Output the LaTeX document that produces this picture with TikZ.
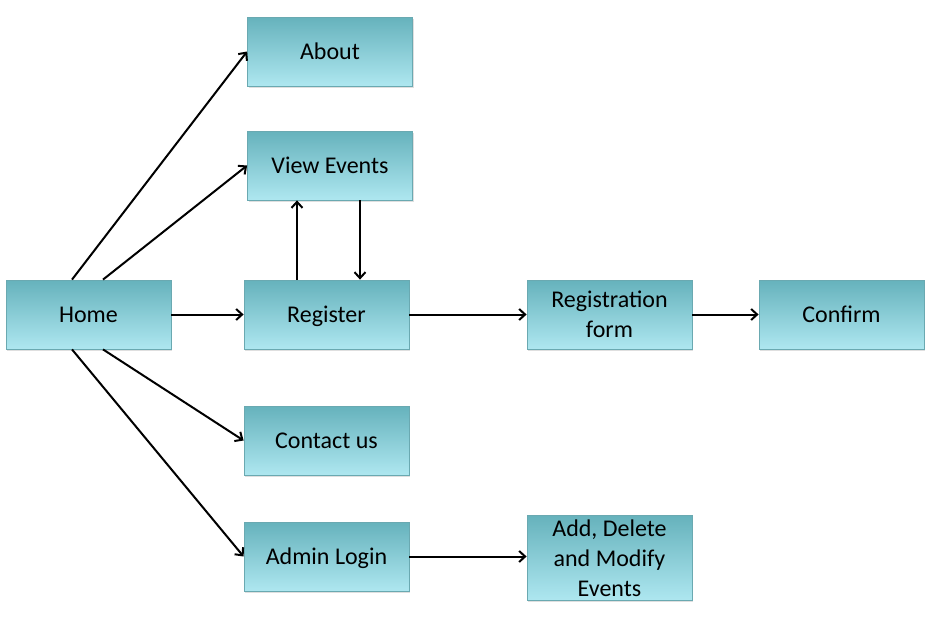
\documentclass[tikz,border=0pt]{standalone}
\usepackage{fontspec}
\setmainfont{Carlito}
\usetikzlibrary{arrows.meta,shadows}

\definecolor{boxtop}{HTML}{66B2BC}
\definecolor{boxbottom}{HTML}{AEE7F0}
\definecolor{boxline}{HTML}{6AA9B1}

\begin{document}
\begin{tikzpicture}[x=1pt,y=-1pt]
  \tikzset{page box/.style={draw=boxline,line width=0.8pt,rectangle,top color=boxtop,bottom color=boxbottom,
      minimum width=165pt,minimum height=69pt,align=center,font=\fontsize{24}{30}\selectfont,
      drop shadow={opacity=0.25,shadow xshift=1pt,shadow yshift=-1.5pt}},
    one line/.style={text height=15.5pt,text depth=0pt},
    link/.style={draw,line width=2pt,-{Straight Barb[length=6pt,width=11pt]}}}
  \useasboundingbox (0,0) rectangle (943,627);

  \node [page box,one line] (home) at (88.5,314.5) {Home};
  \node [page box,one line] (about) at (330,51.5) {About};
  \node [page box,one line] (view) at (330,165.5) {View Events};
  \node [page box,one line] (register) at (326.5,314.5) {Register};
  \node [page box] (regform) at (609.5,314.5) {Registration\\form};
  \node [page box,one line] (confirm) at (841.5,314.5) {Confirm};
  \node [page box,one line] (contact) at (326.5,440.5) {Contact us};
  \node [page box,one line] (admin) at (326.5,556.5) {Admin Login};
  \node [page box,minimum height=85pt] (manage) at (609.5,558) {Add, Delete\\and Modify\\Events};

  \draw [link] ([xshift=-16.5pt]home.north) -- (about.west);
  \draw [link] ([xshift=14.5pt]home.north) -- (view.west);
  \draw [link] (home) -- (register);
  \draw [link] ([xshift=14.5pt]home.south) -- (contact.west);
  \draw [link] ([xshift=-16.5pt]home.south) -- (admin.west);

  \draw [link] ([xshift=-29.5pt]register.north) -- ([xshift=-33pt]view.south);
  \draw [link] ([xshift=30pt]view.south) -- ([xshift=33.5pt]register.north);

  \draw [link] (register) -- (regform);
  \draw [link] (regform) -- (confirm);
  \draw [link] (admin.east) -- (admin.east -| manage.west);
\end{tikzpicture}
\end{document}
